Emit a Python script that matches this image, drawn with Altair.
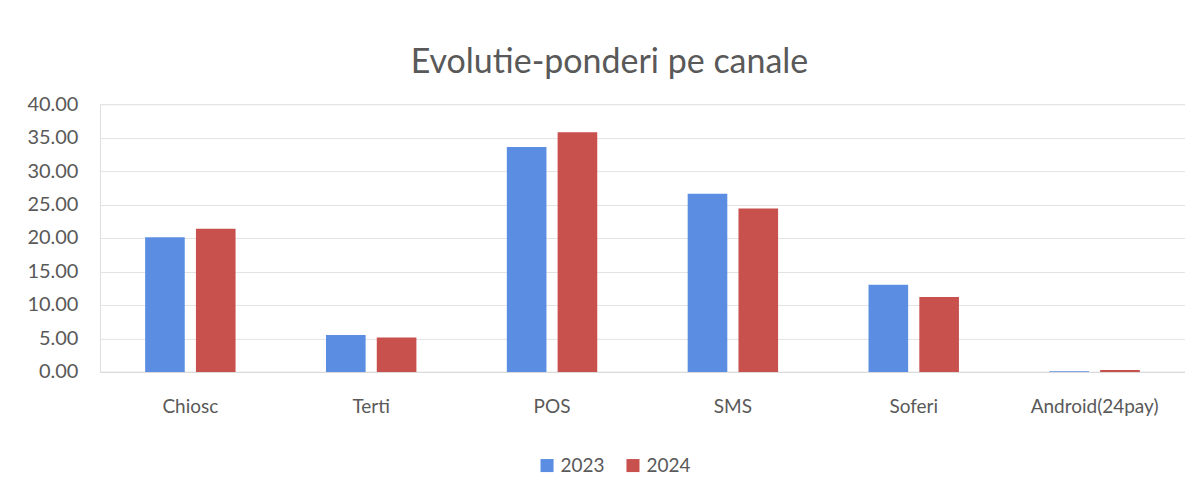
import altair as alt
import pandas as pd

categories = ["Chiosc", "Terti", "POS", "SMS", "Soferi", "Android(24pay)"]
years = ["2023", "2024"]
values_2023 = [20.1, 5.5, 33.6, 26.6, 13.0, 0.1]
values_2024 = [21.4, 5.15, 35.8, 24.4, 11.2, 0.3]
y_ticks = [0, 5, 10, 15, 20, 25, 30, 35, 40]
colors = ["#5B8EE2", "#C8514E"]

rows = []
for c, a, b in zip(categories, values_2023, values_2024):
    rows.append({"canal": c, "an": "2023", "pondere": a})
    rows.append({"canal": c, "an": "2024", "pondere": b})
df = pd.DataFrame(rows)

FONT = "Lato"
GRAY = "#595959"

chart = alt.Chart(df).mark_bar().encode(
    x=alt.X("canal:N", sort=categories, title=None,
            scale=alt.Scale(paddingInner=0.5, paddingOuter=0.25),
            axis=alt.Axis(labelAngle=0, labelFontSize=19, labelColor=GRAY,
                          labelFont=FONT, labelPadding=26, ticks=False,
                          domain=True, domainColor="#d9d9d9", grid=False)),
    xOffset=alt.XOffset("an:N", scale=alt.Scale(paddingInner=0.22, paddingOuter=0)),
    y=alt.Y("pondere:Q", title=None,
            scale=alt.Scale(domain=[0, 40], nice=False),
            axis=alt.Axis(values=y_ticks, format=".2f", labelFontSize=20,
                          labelColor=GRAY, labelFont=FONT, labelPadding=22,
                          ticks=False, domain=False, gridColor="#e3e3e3")),
    color=alt.Color("an:N", scale=alt.Scale(domain=years, range=colors),
                    legend=alt.Legend(title=None, orient="none", direction="horizontal",
                                      legendX=438, legendY=352,
                                      symbolType="square", symbolSize=170,
                                      labelFontSize=19, labelColor=GRAY, labelFont=FONT,
                                      columnPadding=18, symbolStrokeWidth=0)),
).properties(
    width=1086, height=268,
    padding={"left": 92, "top": 96, "right": 0, "bottom": 106},
    autosize=alt.AutoSizeParams(type="none"),
    title=alt.TitleParams("Evolutie-ponderi pe canale", fontSize=34, font=FONT,
                          fontWeight="normal", color=GRAY, offset=14, anchor="middle",
                          dx=-33),
).configure_view(stroke=None).configure(background="white")

chart.save("out.html", embed_options={"renderer": "svg", "actions": False})
